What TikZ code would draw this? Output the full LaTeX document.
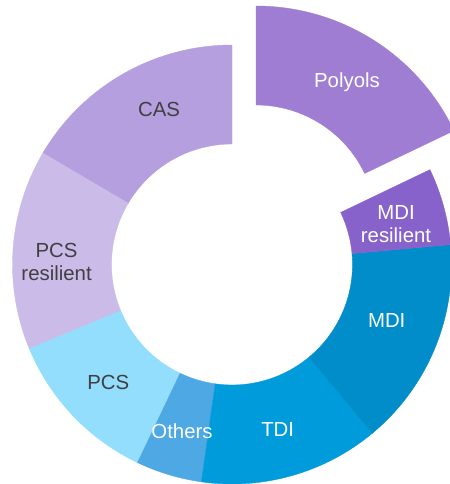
\documentclass[tikz,border=0pt]{standalone}
\usepackage{fontspec}
\setmainfont{Liberation Sans}
\usetikzlibrary{calc}

\definecolor{polyols}{HTML}{9E7DD3}
\definecolor{mdires}{HTML}{8762CA}
\definecolor{mdi}{HTML}{008DC9}
\definecolor{tdi}{HTML}{009BDB}
\definecolor{others}{HTML}{4DA8E3}
\definecolor{pcs}{HTML}{93DDFD}
\definecolor{pcsres}{HTML}{CBBBE8}
\definecolor{cas}{HTML}{B59FDE}
\definecolor{labelgray}{HTML}{404040}

\tikzset{
  seg/.style={draw=white, line width=0.2pt},
  lbl/.style={font=\fontsize{11.6}{13.5}\selectfont, align=center, inner sep=0pt},
  lightlbl/.style={lbl, text=white},
  darklbl/.style={lbl, text=labelgray},
}

\begin{document}
\begin{tikzpicture}[scale=0.02]

    % Frame
    \useasboundingbox (-232,-219.5) rectangle (218,264.5);
    \clip (-232,-219.5) rectangle (218,264.5);

    % Polyols, pulled out of the ring
    \fill[seg, polyols, shift={(24,39)}] (25.6:219.5) arc[start angle=25.6, end angle=90, radius=219.5]
        -- (90:120.5) arc[start angle=90, end angle=25.6, radius=120.5] -- cycle;

    % CAS
    \fill[seg, cas] (90:219.5) arc[start angle=90, end angle=149.5, radius=219.5]
        -- (149.5:120.5) arc[start angle=149.5, end angle=90, radius=120.5] -- cycle;

    % PCS resilient
    \fill[seg, pcsres] (149.5:219.5) arc[start angle=149.5, end angle=202.6, radius=219.5]
        -- (202.6:120.5) arc[start angle=202.6, end angle=149.5, radius=120.5] -- cycle;

    % PCS
    \fill[seg, pcs] (202.6:219.5) arc[start angle=202.6, end angle=244.5, radius=219.5]
        -- (244.5:120.5) arc[start angle=244.5, end angle=202.6, radius=120.5] -- cycle;

    % Others
    \fill[seg, others] (244.5:219.5) arc[start angle=244.5, end angle=262, radius=219.5]
        -- (262:120.5) arc[start angle=262, end angle=244.5, radius=120.5] -- cycle;

    % TDI
    \fill[seg, tdi] (262:219.5) arc[start angle=262, end angle=309.8, radius=219.5]
        -- (309.8:120.5) arc[start angle=309.8, end angle=262, radius=120.5] -- cycle;

    % MDI
    \fill[seg, mdi] (309.8:219.5) arc[start angle=309.8, end angle=365.2, radius=219.5]
        -- (365.2:120.5) arc[start angle=365.2, end angle=309.8, radius=120.5] -- cycle;

    % MDI resilient
    \fill[seg, mdires] (5.2:219.5) arc[start angle=5.2, end angle=25.6, radius=219.5]
        -- (25.6:120.5) arc[start angle=25.6, end angle=5.2, radius=120.5] -- cycle;

    % Labels
    \node[lightlbl] (polyolslbl) at (115,182.5) {Polyols};
    \node[lightlbl] (mdireslbl) at (164,40.5) {MDI\\resilient};
    \node[lightlbl] (mdilbl) at (154.7,-56) {MDI};
    \node[lightlbl] (tdilbl) at (45.7,-165) {TDI};
    \node[lightlbl] (otherslbl) at (-50,-166.5) {Others};
    \node[darklbl] (pcslbl) at (-123.7,-118) {PCS};
    \node[darklbl] (pcsreslbl) at (-175.4,2.5) {PCS\\resilient};
    \node[darklbl] (caslbl) at (-73,155) {CAS};

\end{tikzpicture}
\end{document}
